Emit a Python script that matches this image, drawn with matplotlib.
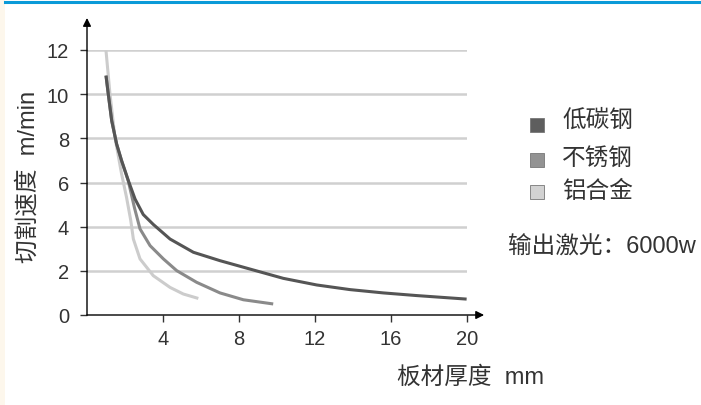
import matplotlib.pyplot as plt
from matplotlib.patches import Rectangle

plt.rcParams['font.family'] = ['Liberation Sans', 'Noto Sans CJK SC', 'DejaVu Sans']

# 数据
x_steel = [1.0, 1.12, 1.3, 1.56, 1.82, 2.17, 2.53, 2.96, 3.49, 4.37, 5.6, 7.0,
           8.58, 10.33, 12.09, 13.84, 15.6, 17.35, 19.98]
y_steel = [10.84, 10.0, 8.8, 7.74, 6.99, 6.1, 5.25, 4.55, 4.1, 3.44, 2.84, 2.46,
           2.08, 1.66, 1.36, 1.15, 1.0, 0.88, 0.72]

x_ss = [1.0, 1.12, 1.3, 1.56, 1.82, 2.17, 2.5, 2.79, 3.32, 4.02, 4.72, 5.77,
        7.0, 8.23, 9.8]
y_ss = [10.84, 10.0, 8.8, 7.74, 6.99, 6.08, 4.85, 3.9, 3.14, 2.54, 2.01, 1.48,
        1.0, 0.69, 0.5]

x_al = [1.0, 1.21, 1.47, 1.82, 2.08, 2.3, 2.44, 2.79, 3.49, 4.37, 5.07, 5.86]
y_al = [11.97, 10.0, 8.05, 6.39, 5.33, 4.3, 3.44, 2.54, 1.78, 1.25, 0.95, 0.75]

names = ['低碳钢', '不锈钢', '铝合金']
line_colors = ['#555555', '#8a8a8a', '#cccccc']
box_colors = ['#5e5e5e', '#939393', '#d2d2d2']
xticks = [4, 8, 12, 16, 20]
yticks = [0, 2, 4, 6, 8, 10, 12]

fig = plt.figure(figsize=(7.01, 4.06), dpi=100)
fig.patch.set_facecolor('white')
# 左侧浅色条和顶部蓝线
fig.patches.append(Rectangle((0, 0), 5 / 701, 1, transform=fig.transFigure,
                             facecolor='#fdf7ec', edgecolor='none'))
fig.add_artist(plt.Line2D([5 / 701, 1], [1 - 3 / 406, 1 - 3 / 406],
                          transform=fig.transFigure, color='#0a9ad8', lw=2.2))

ax = fig.add_axes([87 / 701, 90 / 406, 380 / 701, 265 / 406])
ax.set_xlim(0, 20)
ax.set_ylim(0, 12)

for y in yticks[1:]:
    ax.axhline(y, color='#d0d0d0', lw=1.8, zorder=1)

for xs, ys, c in zip([x_al, x_ss, x_steel], [y_al, y_ss, y_steel], line_colors[::-1]):
    ax.plot(xs, ys, color=c, lw=2.2, zorder=3, solid_capstyle='butt',
            solid_joinstyle='round')

for s in ax.spines.values():
    s.set_visible(False)

# 坐标轴箭头
ax.annotate('', xy=(0, 13.45), xytext=(0, 0), xycoords='data',
            arrowprops=dict(arrowstyle='-|>', color='black', lw=1.0,
                            mutation_scale=12, shrinkA=0, shrinkB=0),
            annotation_clip=False)
ax.annotate('', xy=(20.9, 0), xytext=(0, 0), xycoords='data',
            arrowprops=dict(arrowstyle='-|>', color='black', lw=1.0,
                            mutation_scale=12, shrinkA=0, shrinkB=0),
            annotation_clip=False)

ax.set_xticks(xticks)
ax.set_yticks(yticks)
ax.tick_params(axis='both', labelsize=14.5, color='#333333', length=5, width=1,
               labelcolor='#333333')
ax.tick_params(axis='x', pad=5)
ax.tick_params(axis='y', pad=8)

fig.text(28 / 701, 1 - 177 / 406, '切割速度  m/min', rotation=90, fontsize=17,
         ha='center', va='center', color='#333333')
fig.text(471 / 701, 1 - 378 / 406, '板材厚度  mm', fontsize=17,
         ha='center', va='center', color='#333333')

# 图例
text_y = [121, 159, 192]
box_y = [126, 161, 193]
for n, c, ty, by in zip(names, box_colors, text_y, box_y):
    fig.patches.append(Rectangle((530 / 701, 1 - (by + 7) / 406), 14 / 701, 14 / 406,
                                 transform=fig.transFigure, facecolor=c,
                                 edgecolor='#777777', lw=0.6))
    fig.text(562 / 701, 1 - ty / 406, n, fontsize=17, va='center', ha='left',
             color='#333333')

fig.text(508 / 701, 1 - 247 / 406, '输出激光：6000w', fontsize=17, va='center',
         ha='left', color='#333333')

fig.savefig('out.png', dpi=100)
